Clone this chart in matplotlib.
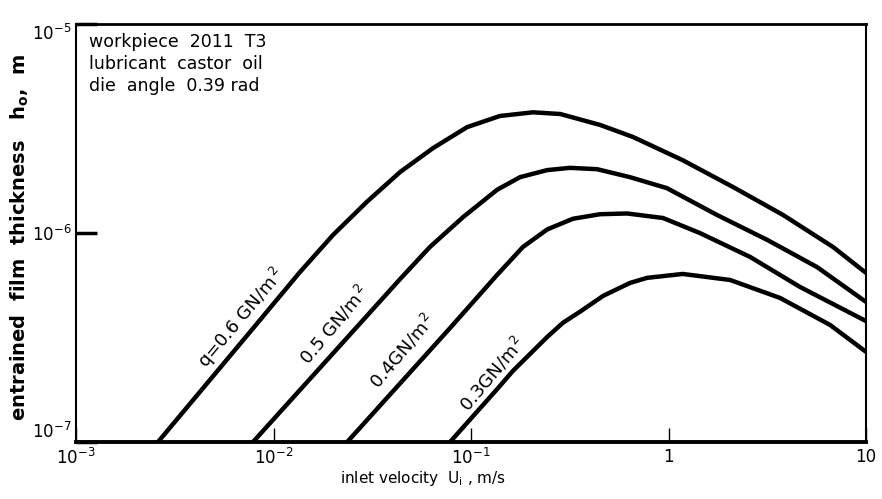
import matplotlib
matplotlib.use("Agg")
import matplotlib.pyplot as plt
from matplotlib.ticker import NullLocator

# Data (inlet velocity U in m/s, film thickness h in m)
u_06 = [0.0026, 0.0076, 0.0136, 0.0200, 0.0297, 0.0438, 0.0643, 0.0955, 0.140, 0.206, 0.283, 0.450, 0.661, 1.18, 2.12, 3.80, 6.81, 10.0]
h_06 = [1.0e-7, 3.36e-7, 6.50e-7, 9.78e-7, 1.41e-6, 1.96e-6, 2.55e-6, 3.21e-6, 3.63e-6, 3.78e-6, 3.71e-6, 3.29e-6, 2.88e-6, 2.23e-6, 1.66e-6, 1.22e-6, 8.57e-7, 6.44e-7]

u_05 = [0.00787, 0.0438, 0.0619, 0.0910, 0.1355, 0.177, 0.243, 0.317, 0.435, 0.638, 0.98, 1.76, 3.16, 5.65, 10.0]
h_05 = [1.0e-7, 6.03e-7, 8.57e-7, 1.19e-6, 1.61e-6, 1.85e-6, 2.00e-6, 2.05e-6, 2.02e-6, 1.85e-6, 1.64e-6, 1.22e-6, 9.27e-7, 6.87e-7, 4.68e-7]

u_04 = [0.0236, 0.0783, 0.1355, 0.183, 0.243, 0.328, 0.450, 0.617, 0.937, 1.44, 2.59, 4.63, 10.0]
h_04 = [1.0e-7, 3.51e-7, 6.30e-7, 8.57e-7, 1.04e-6, 1.17e-6, 1.23e-6, 1.24e-6, 1.18e-6, 1.0e-6, 7.68e-7, 5.52e-7, 3.79e-7]

u_03 = [0.0783, 0.1355, 0.163, 0.243, 0.292, 0.356, 0.466, 0.638, 0.778, 1.18, 2.05, 3.67, 6.58, 10.0]
h_03 = [1.0e-7, 1.79e-7, 2.19e-7, 3.18e-7, 3.72e-7, 4.20e-7, 5.00e-7, 5.77e-7, 6.10e-7, 6.37e-7, 5.96e-7, 4.89e-7, 3.63e-7, 2.70e-7]

labels = ["q=0.6 GN/m$^{\\,2}$", "0.5 GN/m$^{\\,2}$", "0.4GN/m$^{\\,2}$", "0.3GN/m$^{\\,2}$"]
label_u = [0.00684, 0.0202, 0.0448, 0.129]
label_h = [3.92e-7, 3.63e-7, 2.72e-7, 2.11e-7]

x_ticks = [1e-3, 1e-2, 1e-1, 1, 10]
x_ticklabels = ["10$^{-3}$", "10$^{-2}$", "10$^{-1}$", "1", "10"]
y_ticks = [1e-7, 1e-6, 1e-5]
y_ticklabels = ["10$^{-7}$", "10$^{-6}$", "10$^{-5}$"]

info_lines = ["workpiece  2011  T3", "lubricant  castor  oil", "die  angle  0.39 rad"]

plt.rcParams['font.family'] = ['DejaVu Sans']
plt.rcParams['mathtext.default'] = 'regular'

fig = plt.figure(figsize=(8.82, 4.99), dpi=100)
ax = fig.add_axes([0.0862, 0.1142, 0.8957, 0.8377])

series = [(u_06, h_06), (u_05, h_05), (u_04, h_04), (u_03, h_03)]
for u, h in series:
    ax.plot(u, h, color='black', lw=3.2, solid_capstyle='butt', solid_joinstyle='round')

ax.set_xscale('log')
ax.set_yscale('log')
ax.set_xlim(1e-3, 10)
ax.set_ylim(1e-7, 1e-5)

ax.set_xticks(x_ticks)
ax.set_xticklabels(x_ticklabels, fontsize=12)
ax.set_yticks(y_ticks)
ax.set_yticklabels(y_ticklabels, fontsize=12)
ax.xaxis.set_minor_locator(NullLocator())
ax.yaxis.set_minor_locator(NullLocator())
ax.tick_params(axis='x', direction='in', length=10, width=1.0, pad=4)
ax.tick_params(axis='y', direction='in', length=15, width=2.5, pad=3)
ylabs = ax.get_yticklabels()
ylabs[0].set_va('bottom')
ylabs[2].set_va('top')

ax.spines['left'].set_linewidth(1.5)
ax.spines['right'].set_linewidth(1.5)
ax.spines['top'].set_linewidth(2.0)
ax.spines['bottom'].set_linewidth(2.8)

for lab, lu, lh in zip(labels, label_u, label_h):
    ax.text(lu, lh, lab, rotation=50, rotation_mode='anchor', ha='center', va='center',
            fontsize=13, color='black')

info_y = [0.957, 0.904, 0.852]
for line, yy in zip(info_lines, info_y):
    ax.text(0.016, yy, line, transform=ax.transAxes, fontsize=12.5,
            ha='left', va='center')

fig.text(423 / 882, 1 - 479 / 499, "inlet velocity  U$_{i}$ , m/s", ha='center', va='center', fontsize=11)
fig.text(20 / 882, 1 - 237 / 499, "entrained  film  thickness   h$_{o}$,  m", ha='center', va='center',
         rotation=90, fontsize=14, fontweight='bold')

fig.savefig("out.png", dpi=100)
